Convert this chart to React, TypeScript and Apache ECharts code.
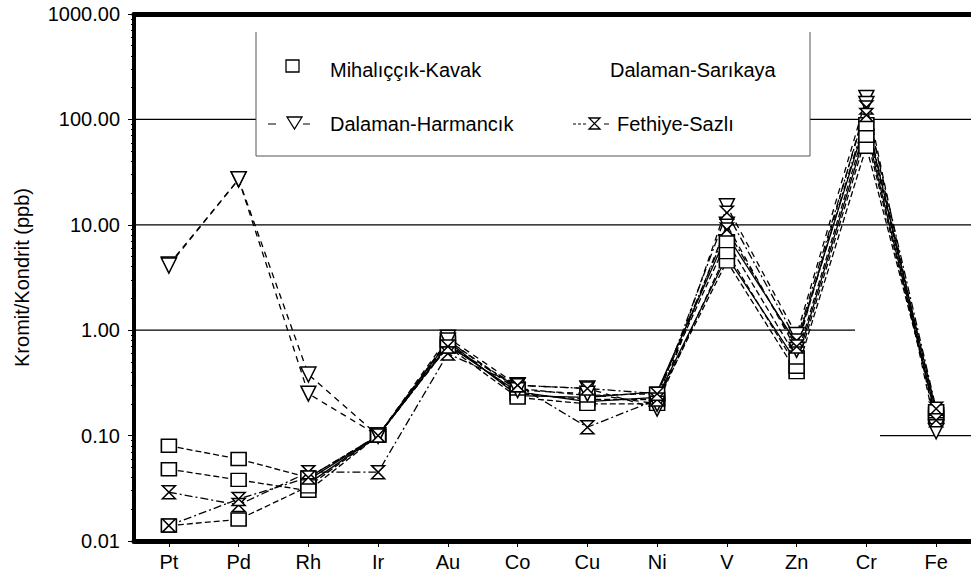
import React, { useEffect, useRef } from "react";
import * as echarts from "echarts";

const elements = ["Pt", "Pd", "Rh", "Ir", "Au", "Co", "Cu", "Ni", "V", "Zn", "Cr", "Fe"];
const yTicks = [0.01, 0.1, 1, 10, 100, 1000];

// Mihalıççık-Kavak samples
const kavak1 = [0.08, 0.06, 0.04, 0.1, 0.75, 0.25, 0.22, 0.22, 4.5, 0.4, 55, 0.16];
const kavak2 = [0.048, 0.038, 0.03, 0.1, 0.7, 0.23, 0.2, 0.2, 5.5, 0.45, 70, 0.15];
const kavak3 = [0.014, 0.016, 0.033, 0.1, 0.8, 0.28, 0.24, 0.25, 7, 0.55, 90, 0.17];
// Dalaman-Sarıkaya samples
const sarikaya1 = [null, null, 0.035, 0.1, 0.72, 0.26, 0.21, 0.23, 5, 0.5, 80, 0.15];
const sarikaya2 = [null, null, 0.038, 0.1, 0.78, 0.24, 0.23, 0.26, 8, 0.75, 100, 0.17];
// Dalaman-Harmancık samples
const harmancik1 = [4.2, 27, 0.38, 0.1, 0.85, 0.3, 0.28, 0.18, 15, 0.9, 160, 0.12];
const harmancik2 = [4.1, 27, 0.25, 0.1, 0.8, 0.27, 0.25, 0.2, 10, 0.65, 140, 0.11];
// Fethiye-Sazlı samples
const sazli1 = [0.029, 0.022, 0.045, 0.045, 0.6, 0.3, 0.12, 0.22, 13, 0.8, 130, 0.18];
const sazli2 = [0.014, 0.025, 0.04, 0.1, 0.7, 0.3, 0.28, 0.25, 9, 0.7, 110, 0.14];

const FONT = "Liberation Sans, Arial, sans-serif";
const HOURGLASS = "path://M0,0 L10,0 L0,10 L10,10 Z";

export default function App() {
  const ref = useRef<HTMLDivElement>(null);
  useEffect(() => {
    document.body.style.margin = "0";
    const chart = echarts.init(ref.current!, null, { renderer: "svg" });

    const hollow = { color: "#fff", borderColor: "#000", borderWidth: 1.5 };
    const mk = (name: string, data: any[], symbol: string, size: any, lineType: any, rotate = 0, showSym = true) => ({
      type: "line",
      name,
      data,
      symbol: showSym ? symbol : "none",
      symbolSize: size,
      symbolRotate: rotate,
      showSymbol: showSym,
      itemStyle: hollow,
      lineStyle: { color: "#000", width: 1.3, type: lineType },
      connectNulls: false,
      z: 3,
    });

    const series: any[] = [
      mk("Dalaman-Sarıkaya 1", sarikaya1, "none", 0, "solid", 0, false),
      mk("Dalaman-Sarıkaya 2", sarikaya2, "none", 0, "solid", 0, false),
      mk("Mihalıççık-Kavak 1", kavak1, "rect", [15, 13], [6, 3]),
      mk("Mihalıççık-Kavak 2", kavak2, "rect", [15, 13], [6, 3]),
      mk("Mihalıççık-Kavak 3", kavak3, "rect", [15, 13], [6, 3]),
      mk("Dalaman-Harmancık 1", harmancik1, "triangle", 15, [6, 5], 180),
      mk("Dalaman-Harmancık 2", harmancik2, "triangle", 15, [6, 5], 180),
      mk("Fethiye-Sazlı 1", sazli1, HOURGLASS, 13, [8, 3, 2, 3]),
      mk("Fethiye-Sazlı 2", sazli2, HOURGLASS, 13, [8, 3, 2, 3]),
    ];

    const option: any = {
      animation: false,
      backgroundColor: "#fff",
      grid: { left: 134, right: -7, top: 14, bottom: 38 },
      xAxis: [
        {
          type: "category",
          data: elements,
          boundaryGap: true,
          position: "bottom",
          axisLine: { show: true, lineStyle: { color: "#000", width: 5 } },
          axisTick: { show: true, alignWithLabel: true, interval: 0, length: 6, lineStyle: { color: "#000", width: 1 } },
          axisLabel: { color: "#000", fontFamily: FONT, fontSize: 20, margin: 11, interval: 0 },
          splitLine: { show: false },
        },
        {
          type: "category",
          data: elements,
          position: "top",
          axisLine: { show: true, lineStyle: { color: "#000", width: 5 } },
          axisTick: { show: false },
          axisLabel: { show: false },
          splitLine: { show: false },
        },
      ],
      yAxis: {
        type: "log",
        logBase: 10,
        min: 0.01,
        max: 1000,
        name: "Kromit/Kondrit (ppb)",
        nameLocation: "middle",
        nameGap: 102,
        nameTextStyle: { color: "#000", fontFamily: FONT, fontSize: 20 },
        axisLine: { show: true, lineStyle: { color: "#000", width: 4 } },
        axisTick: { show: true, length: 6, lineStyle: { color: "#000", width: 1 } },
        minorTick: { show: true, splitNumber: 9, length: 3, lineStyle: { color: "#000", width: 1 } },
        axisLabel: {
          color: "#000",
          fontFamily: FONT,
          fontSize: 20,
          margin: 14,
          formatter: (v: number) => v.toFixed(2),
        },
        splitLine: { show: false },
      },
      series,
    };
    chart.setOption(option);

    const yPix = (v: number) => chart.convertToPixel({ yAxisIndex: 0 }, v) as number;
    const hl = (x1: number, x2: number, v: number) => ({
      type: "line",
      z: 1,
      shape: { x1, y1: yPix(v), x2, y2: yPix(v) },
      style: { stroke: "#000", lineWidth: 1.2 },
    });
    const line = (x1: number, y1: number, x2: number, y2: number, dash?: number[]) => ({
      type: "line",
      z: 11,
      shape: { x1, y1, x2, y2 },
      style: { stroke: "#000", lineWidth: 1, lineDash: dash },
    });
    const txt = (x: number, y: number, text: string) => ({
      type: "text",
      z: 11,
      x,
      y,
      style: { text, fill: "#000", font: `20px ${FONT}`, textVerticalAlign: "middle" },
    });

    const graphic: any[] = [
      hl(134, 971, yTicks[4]),
      hl(134, 971, yTicks[3]),
      hl(134, 855, yTicks[2]),
      hl(880, 971, yTicks[1]),
      // legend box
      { type: "rect", z: 10, shape: { x: 256, y: 32, width: 554, height: 124 }, style: { fill: "#fff", stroke: null } },
      { type: "polyline", z: 11, shape: { points: [[256, 32], [256, 156], [810, 156], [810, 32]] }, style: { stroke: "#555", lineWidth: 1, fill: null } },
      // Mihalıççık-Kavak
      { type: "rect", z: 11, shape: { x: 286, y: 60, width: 13, height: 12 }, style: { fill: "#fff", stroke: "#000", lineWidth: 1.3 } },
      txt(330, 70, "Mihalıççık-Kavak"),
      txt(610, 70, "Dalaman-Sarıkaya"),
      // Dalaman-Harmancık
      line(268, 124, 276, 124),
      line(303, 124, 310, 124),
      { type: "polygon", z: 11, shape: { points: [[287, 117], [302, 117], [294.5, 129]] }, style: { fill: "#fff", stroke: "#000", lineWidth: 1.3 } },
      txt(330, 124, "Dalaman-Harmancık"),
      // Fethiye-Sazlı
      line(573, 124, 586, 124, [3, 2]),
      line(604, 124, 609, 124),
      { type: "polygon", z: 11, shape: { points: [[589, 118], [600, 118], [589, 129], [600, 129]] }, style: { fill: "#fff", stroke: "#000", lineWidth: 1.3 } },
      txt(617, 124, "Fethiye-Sazlı"),
    ];
    chart.setOption({ graphic });

    return () => chart.dispose();
  }, []);
  return <div ref={ref} style={{ width: 971, height: 579 }} />;
}
